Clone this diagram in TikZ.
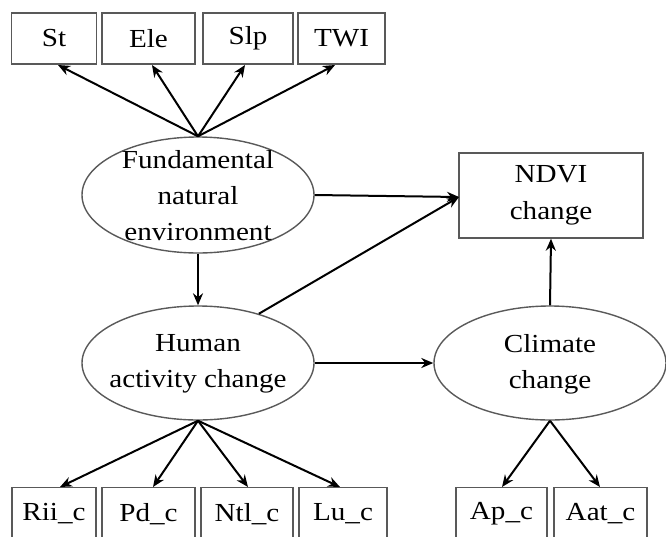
\documentclass[tikz,border=0pt]{standalone}
\usepackage{fontspec}
\setmainfont[FakeStretch=1.12]{Liberation Serif}
\usetikzlibrary{shapes.geometric,arrows.meta}
\begin{document}
\begin{tikzpicture}[x=1pt,y=-1pt,
  box/.style={draw=black!65,line width=1.4pt,inner sep=0pt,font=\fontsize{26}{37}\selectfont,align=center},
  lat/.style={ellipse,draw=black!65,line width=1.4pt,inner sep=0pt,minimum width=232pt,minimum height=114pt},
  txt/.style={inner sep=0pt,font=\fontsize{26}{36}\selectfont,align=center},
  arr/.style={-{Stealth[length=12pt,width=10pt]},line width=2pt,black}]
\useasboundingbox (0,0) rectangle (666,536);
% top boxes
\node[box,minimum width=85pt,minimum height=51pt] (st) at (54,38.5) {St};
\node[box,minimum width=93pt,minimum height=51pt] (ele) at (148.5,38.5) {Ele};
\node[box,minimum width=90pt,minimum height=51pt] (slp) at (248,38.5) {Slp};
\node[box,minimum width=87pt,minimum height=51pt] (twi) at (341.5,38.5) {TWI};
% latent
\node[lat,minimum height=116pt] (fne) at (198,195) {};
\node[txt] (fnet) at (198,196) {Fundamental\\natural\\environment};
\node[lat] (hac) at (198,363) {};
\node[txt] (hact) at (198,364) {Human\\activity change};
\node[lat] (cc) at (550,363) {};
\node[txt] (cct) at (550,364) {Climate\\change};
% NDVI
\node[box,minimum width=184pt,minimum height=85pt] (ndvi) at (551,195.5) {NDVI\\change};
% bottom boxes
\node[box,minimum width=84pt,minimum height=52pt,anchor=north] (rii) at (54,487) {Rii\_c};
\node[box,minimum width=93pt,minimum height=52pt,anchor=north] (pd) at (148.5,487) {Pd\_c};
\node[box,minimum width=92pt,minimum height=52pt,anchor=north] (ntl) at (247,487) {Ntl\_c};
\node[box,minimum width=88pt,minimum height=52pt,anchor=north] (lu) at (343,487) {Lu\_c};
\node[box,minimum width=91pt,minimum height=52pt,anchor=north] (ap) at (501.5,487) {Ap\_c};
\node[box,minimum width=93pt,minimum height=52pt,anchor=north] (aat) at (600.5,487) {Aat\_c};
% coordinates for arrow ends
\coordinate (stb) at (58,65);
\coordinate (eleb) at (152,65);
\coordinate (slpb) at (245,65);
\coordinate (twib) at (335,65);
\coordinate (riit) at (60,487);
\coordinate (pdt) at (153,487);
\coordinate (ntlt) at (248,487);
\coordinate (lut) at (340,487);
\coordinate (apt) at (502,487);
\coordinate (aatt) at (600,487);
\coordinate (ndin) at (459,197);
% arrows
\draw[arr] (fne.north) -- (stb);
\draw[arr] (fne.north) -- (eleb);
\draw[arr] (fne.north) -- (slpb);
\draw[arr] (fne.north) -- (twib);
\draw[arr] (fne.south) -- (hac.north);
\draw[arr] (fne.east) -- (ndin);
\draw[arr] (hac.39) -- (ndin);
\draw[arr] (hac.east) -- (cc.west);
\draw[arr] (cc.north) -- (ndvi.south);
\draw[arr] (hac.south) -- (riit);
\draw[arr] (hac.south) -- (pdt);
\draw[arr] (hac.south) -- (ntlt);
\draw[arr] (hac.south) -- (lut);
\draw[arr] (cc.south) -- (apt);
\draw[arr] (cc.south) -- (aatt);
\end{tikzpicture}
\end{document}
